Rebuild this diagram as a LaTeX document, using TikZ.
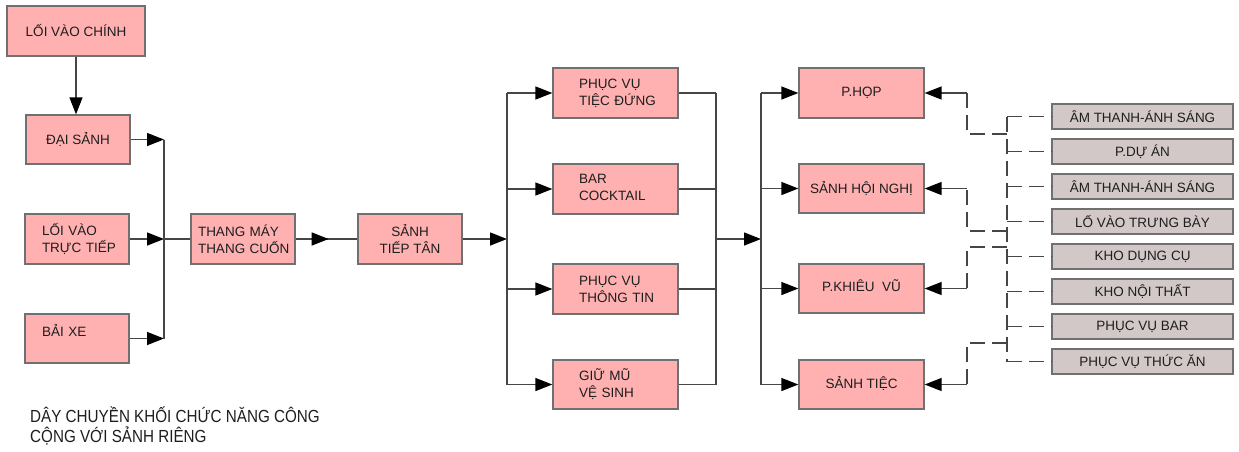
\documentclass[tikz,border=0pt]{standalone}
\usepackage{fontspec}
\setmainfont{Liberation Sans}
\newfontfamily\titlefont[FakeStretch=0.87]{Liberation Sans}
\usetikzlibrary{arrows.meta,decorations.markings}
\definecolor{pinkc}{RGB}{255,176,176}
\definecolor{greyc}{RGB}{211,200,200}
\definecolor{bordc}{RGB}{112,112,112}
\definecolor{linec}{RGB}{70,70,70}
\definecolor{txtc}{RGB}{30,30,30}
\begin{document}
\begin{tikzpicture}[x=1pt,y=1pt,
  boxtxt/.style={font=\fontsize{13.5}{17}\selectfont, text=txtc},
  pbox/.style={draw=bordc, line width=1.3pt, fill=pinkc, inner sep=0pt, align=center, boxtxt},
  lbox/.style={pbox, align=left},
  gbox/.style={draw=bordc, line width=1.3pt, fill=greyc, inner sep=0pt, minimum width=181pt, minimum height=25pt, align=center, boxtxt},
  conn/.style={draw=linec, line width=1.4pt},
  arr/.style={conn, -{Triangle[length=17pt,width=13pt,color=black]}},
  dashconn/.style={conn, dash pattern=on 15pt off 7pt},
  midarr/.style={conn, postaction={decorate}, decoration={markings, mark=at position #1 with {\arrow{Triangle[length=17pt,width=13pt,color=black]}}}}
]
\useasboundingbox (0,0) rectangle (1239,-451);

% left column
\node[pbox, minimum width=138pt, minimum height=50pt] (main) at (76,-31) {LỐI VÀO CHÍNH};
\node[pbox, minimum width=104pt, minimum height=49pt] (dai) at (78,-139.5) {ĐẠI SẢNH};
\node[lbox, text width=70pt, inner xsep=17pt, minimum height=50pt] (truc) at (77,-239) {\mbox{LỐI VÀO}\\\mbox{TRỰC TIẾP}};
\node[lbox, text width=70pt, inner xsep=17pt, minimum height=49pt] (baixe) at (77,-338.5) {\mbox{BẢI XE}\\\mbox{}};
\node[lbox, text width=90pt, inner xsep=7pt, minimum height=50pt] (thang) at (243,-239) {\mbox{THANG MÁY}\\\mbox{THANG CUỐN}};
\node[pbox, minimum width=104pt, minimum height=50pt] (sanhtt) at (410,-239) {SẢNH\\TIẾP TÂN};

% middle column
\node[lbox, text width=73pt, inner xsep=26pt, minimum height=50pt] (b1) at (615.5,-93) {\mbox{PHỤC VỤ}\\\mbox{TIỆC ĐỨNG}};
\node[lbox, text width=73pt, inner xsep=26pt, minimum height=50pt] (b2) at (615.5,-189) {\raisebox{3pt}{BAR}\\\raisebox{3pt}{COCKTAIL}};
\node[lbox, text width=73pt, inner xsep=26pt, minimum height=50pt] (b3) at (615.5,-289) {\mbox{PHỤC VỤ}\\\mbox{THÔNG TIN}};
\node[lbox, text width=73pt, inner xsep=26pt, minimum height=49pt] (b4) at (615.5,-384.5) {\mbox{GIỮ MŨ}\\\mbox{VỆ SINH}};

% right column
\node[pbox, minimum width=125pt, minimum height=50pt] (r1) at (861.5,-93) {\raisebox{3pt}{P.HỌP}};
\node[pbox, minimum width=125pt, minimum height=49pt] (r2) at (861.5,-188.5) {\raisebox{3pt}{SẢNH HỘI NGHỊ}};
\node[pbox, minimum width=125pt, minimum height=49pt] (r3) at (861.5,-288.5) {\raisebox{6pt}{P.KHIÊU~~VŨ}};
\node[pbox, minimum width=125pt, minimum height=49pt] (r4) at (861.5,-384.5) {\raisebox{5pt}{SẢNH TIỆC}};

% grey boxes
\node[gbox] (g1) at (1142.5,-116.5) {ÂM THANH-ÁNH SÁNG};
\node[gbox] (g2) at (1142.5,-151.5) {P.DỰ ÁN};
\node[gbox] (g3) at (1142.5,-186.5) {ÂM THANH-ÁNH SÁNG};
\node[gbox] (g4) at (1142.5,-221.5) {LỐ VÀO TRƯNG BÀY};
\node[gbox] (g5) at (1142.5,-256.5) {KHO DỤNG CỤ};
\node[gbox] (g6) at (1142.5,-291.5) {KHO NỘI THẤT};
\node[gbox] (g7) at (1142.5,-326.5) {PHỤC VỤ BAR};
\node[gbox] (g8) at (1142.5,-361.5) {PHỤC VỤ THỨC ĂN};

% title
\node[anchor=north west, inner sep=0pt, align=left, font=\titlefont\fontsize{17.5}{20}\selectfont, text=txtc] (title) at (30,-407) {DÂY CHUYỀN KHỐI CHỨC NĂNG CÔNG\\CỘNG VỚI SẢNH RIÊNG};

% junctions
\coordinate (j1) at (164,-239);
\coordinate (j2) at (507,-239);
\coordinate (j3) at (716,-239);
\coordinate (j4) at (761,-239);
\coordinate (v) at (1007,0);
\coordinate (k1) at (967,-93);
\coordinate (k2) at (967,-188.5);
\coordinate (k3) at (967,-288.5);
\coordinate (k4) at (967,-384.5);
\coordinate (a1) at (1007,-134);
\coordinate (a2) at (1007,-231);
\coordinate (a3) at (1007,-247);
\coordinate (a4) at (1007,-343);

% connectors left
\draw[arr] (main.south) -- (main.south |- dai.north);
\draw[arr] (dai.east) -- (j1 |- dai);
\draw[arr] (truc.east) -- (j1);
\draw[arr] (baixe.east) -- (j1 |- baixe);
\draw[conn] (j1 |- dai) -- (j1 |- baixe);
\draw[conn] (j1) -- (thang.west);
\draw[midarr=33pt] (thang.east) -- (sanhtt.west);
\draw[arr] (sanhtt.east) -- (j2);
\draw[conn] (j2 |- b1) -- (j2 |- b4);
\foreach \b in {b1,b2,b3,b4} {
  \draw[arr] (j2 |- \b) -- (\b.west);
  \draw[conn] (\b.east) -- (j3 |- \b);
}
\draw[conn] (j3 |- b1) -- (j3 |- b4);
\draw[arr] (j3) -- (j4);
\draw[conn] (j4 |- r1) -- (j4 |- r4);
\foreach \r in {r1,r2,r3,r4} {
  \draw[arr] (j4 |- \r) -- (\r.west);
}

% right dashed connectors
\draw[dashconn] (v |- g1) -- (v |- g8);
\foreach \g in {g1,g2,g3,g4,g5,g6,g7,g8} {
  \draw[dashconn] (v |- \g) -- (\g.west);
}
\draw[dashconn] (a1) -| (k1);
\draw[dashconn] (a2) -| (k2);
\draw[dashconn] (a3) -| (k3);
\draw[dashconn] (a4) -| (k4);
\draw[arr] (k1) -- (r1.east);
\draw[arr] (k2) -- (r2.east);
\draw[arr] (k3) -- (r3.east);
\draw[arr] (k4) -- (r4.east);
\end{tikzpicture}
\end{document}
